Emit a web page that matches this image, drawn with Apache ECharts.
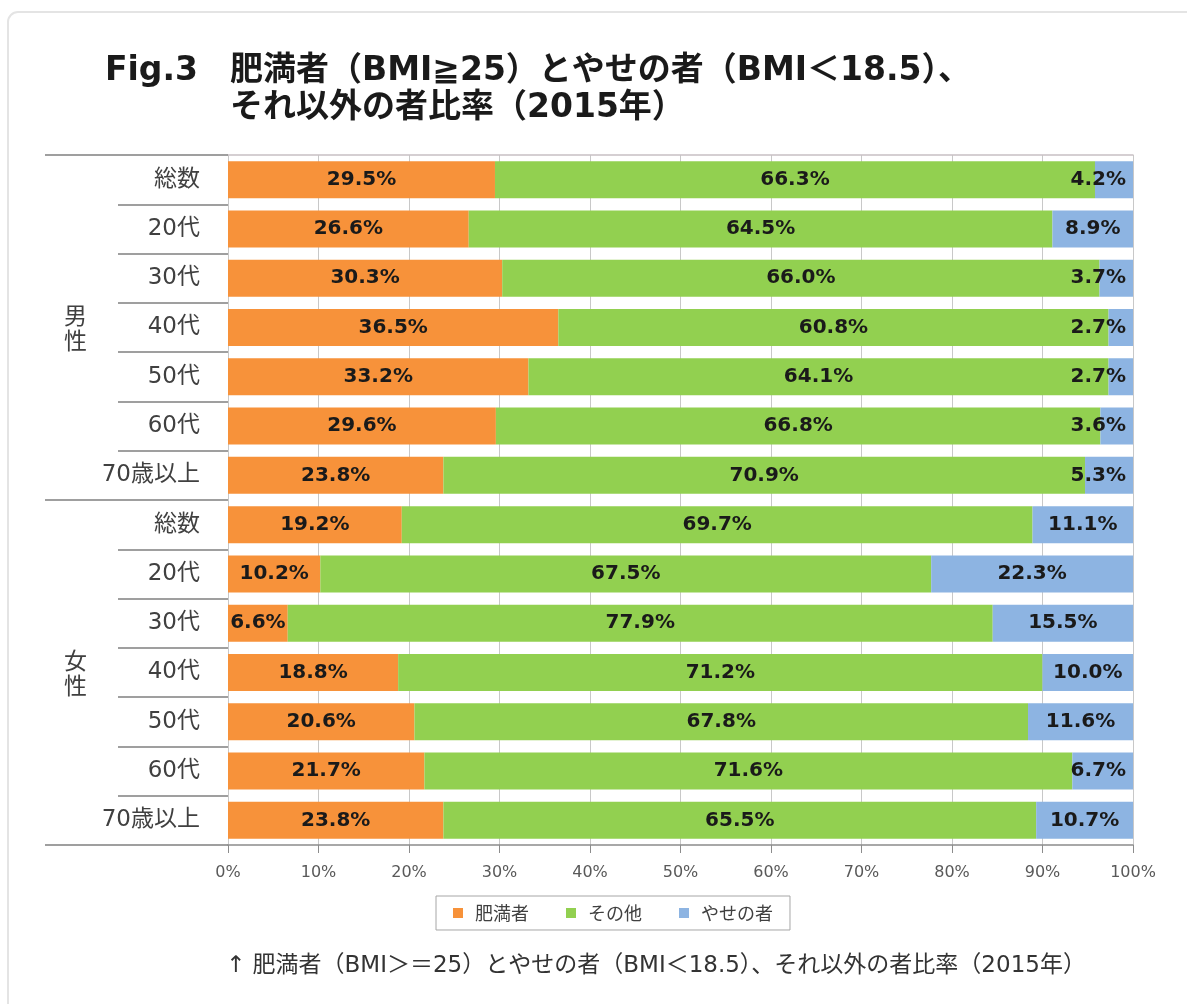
<!DOCTYPE html>
<html>
<head>
<meta charset="utf-8">
<script src="https://cdn.jsdelivr.net/npm/echarts@6/dist/echarts.min.js"></script>
<style>
html,body{margin:0;padding:0;background:#fff;}
#c{width:1187px;height:1004px;}
</style>
</head>
<body>
<div id="c"></div>
<script>
var categories = ['総数','20代','30代','40代','50代','60代','70歳以上','総数','20代','30代','40代','50代','60代','70歳以上'];
var groups = ['男性','女性'];
var seriesNames = ['肥満者','その他','やせの者'];
var obese = [29.5,26.6,30.3,36.5,33.2,29.6,23.8,19.2,10.2,6.6,18.8,20.6,21.7,23.8];
var other = [66.3,64.5,66.0,60.8,64.1,66.8,70.9,69.7,67.5,77.9,71.2,67.8,71.6,65.5];
var thin  = [4.2,8.9,3.7,2.7,2.7,3.6,5.3,11.1,22.3,15.5,10.0,11.6,6.7,10.7];

var colors = ['#F7923A','#92D050','#8DB4E2'];
var jp = '"Noto Sans CJK JP", sans-serif';
var mix = '"DejaVu Sans", "Noto Sans CJK JP", sans-serif';
var lblFont = '"DejaVu Sans", sans-serif';

function fmt(p){ return p.value.toFixed(1) + '%'; }
var baseLabel = {show:true, formatter: fmt, color:'#1a1a1a', fontFamily: lblFont, fontWeight:'bold', fontSize:20};

function makeSeries(name, vals, idx){
  return {
    name: name, type:'bar', stack:'t', barWidth:37,
    itemStyle:{color: colors[idx]},
    label: Object.assign({position:'inside'}, baseLabel),
    data: vals.map(function(v){
      if (idx === 2 && v < 8) {
        return {value:v, label:{position:'insideRight', distance:7}};
      }
      return v;
    })
  };
}

var chart = echarts.init(document.getElementById('c'));
chart.setOption({
  animation:false,
  backgroundColor:'#fff',
  grid:{left:228, right:54, top:155, bottom:159},
  legend:{
    data: seriesNames, left:436, top:896, orient:'horizontal',
    borderColor:'#a6a6a6', borderWidth:1, padding:[8,17,8,17], itemGap:37,
    itemWidth:10, itemHeight:10, icon:'rect',
    textStyle:{fontFamily: jp, fontSize:18, color:'#404040', padding:[0,0,0,7]}
  },
  xAxis:[{
    type:'value', min:0, max:100, interval:10, position:'bottom',
    axisLine:{show:true, lineStyle:{color:'#8c8c8c', width:1.5}},
    axisTick:{show:true, length:8, lineStyle:{color:'#8c8c8c', width:1}},
    splitLine:{show:true, lineStyle:{color:'#c8c8c8', width:1}},
    axisLabel:{formatter: function(v){ return v + '%'; }, margin:20, fontFamily: lblFont, fontSize:16, color:'#595959'}
  },{
    type:'value', min:0, max:100, position:'top',
    axisLine:{show:true, lineStyle:{color:'#c8c0c4', width:1.5}},
    axisTick:{show:false}, axisLabel:{show:false}, splitLine:{show:false}
  }],
  yAxis:[{
    type:'category', data: categories, inverse:true, position:'left',
    axisLine:{show:false},
    axisTick:{show:true, length:110, interval:0, lineStyle:{color:'#808080', width:1.5}},
    axisLabel:{margin:28, fontFamily: mix, fontSize:23, color:'#404040', interval:0}
  },{
    type:'category', data: groups, inverse:true, position:'left',
    axisLine:{show:false},
    axisTick:{show:true, length:183, interval:0, lineStyle:{color:'#808080', width:1.5}},
    axisLabel:{margin:141, fontFamily: jp, fontSize:23, lineHeight:25, color:'#404040',
      formatter:function(s){ return s.split('').join('\n'); }}
  }],
  series:[
    makeSeries(seriesNames[0], obese, 0),
    makeSeries(seriesNames[1], other, 1),
    makeSeries(seriesNames[2], thin, 2)
  ],
  graphic:[
    {type:'rect', shape:{x:8, y:12, width:1200, height:1010, r:10}, style:{fill:'none', stroke:'#e4e4e4', lineWidth:2}, z:-1},
    {type:'text', left:105, top:55, style:{text:'Fig.3', font:'bold 33px ' + mix, fill:'#1a1a1a'}},
    {type:'text', left:230, top:55, style:{text:'肥満者（BMI≧25）とやせの者（BMI＜18.5）、', font:'bold 33px ' + mix, fill:'#1a1a1a'}},
    {type:'text', left:230, top:92, style:{text:'それ以外の者比率（2015年）', font:'bold 33px ' + mix, fill:'#1a1a1a'}},
    {type:'text', left:226, top:955, style:{text:'↑ 肥満者（BMI＞＝25）とやせの者（BMI＜18.5）、それ以外の者比率（2015年）', font:'23px ' + mix, fill:'#333'}}
  ]
});
</script>
</body>
</html>
